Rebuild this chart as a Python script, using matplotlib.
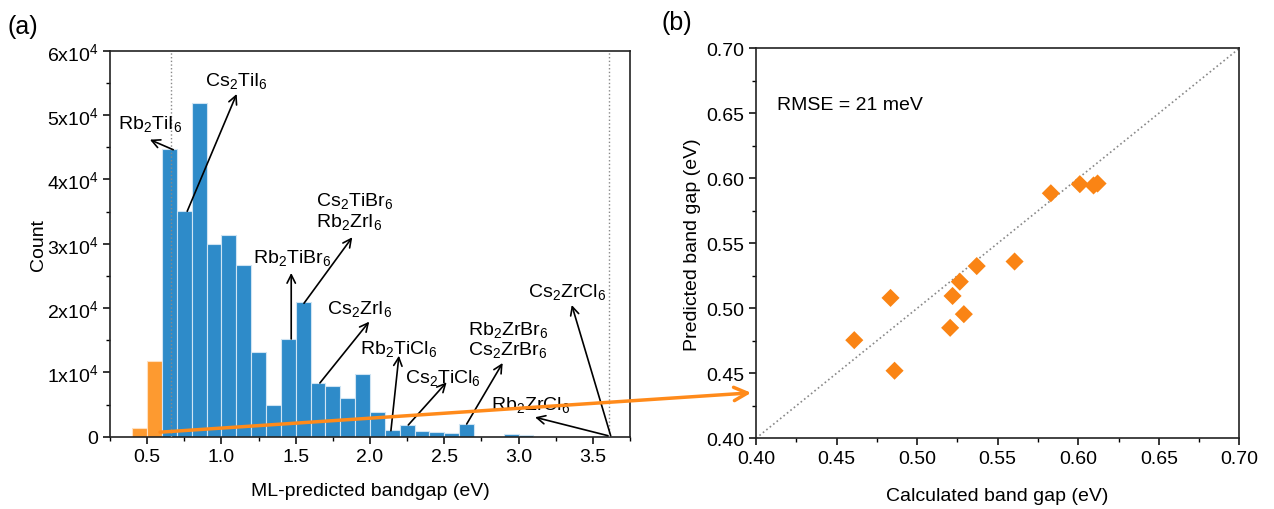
import numpy as np
import matplotlib
matplotlib.use("Agg")
import matplotlib.pyplot as plt
from matplotlib.ticker import MultipleLocator, FuncFormatter
from matplotlib.patches import ConnectionPatch

plt.rcParams['font.family'] = ['Liberation Sans', 'DejaVu Sans']
plt.rcParams['mathtext.default'] = 'regular'
plt.rcParams['font.size'] = 14

# (a) histogram of ML-predicted bandgaps, 0.1 eV bins
orange_starts = [0.4, 0.5]
orange_counts = [1300, 11800]
blue_starts = [0.6, 0.7, 0.8, 0.9, 1.0, 1.1, 1.2, 1.3, 1.4, 1.5, 1.6, 1.7,
               1.8, 1.9, 2.0, 2.1, 2.2, 2.3, 2.4, 2.5, 2.6, 2.9, 3.0, 3.5]
blue_counts = [44700, 35100, 51900, 29900, 31300, 26700, 13200, 4900, 15200,
               21000, 8350, 7900, 6000, 9750, 3800, 1100, 1800, 900, 800, 600,
               1900, 400, 300, 150]
window = [0.66, 3.61]

# (b) predicted vs calculated band gap
calc_gap = [0.461, 0.4835, 0.486, 0.5205, 0.522, 0.5265, 0.529, 0.537,
            0.5605, 0.583, 0.601, 0.6095, 0.612]
pred_gap = [0.4755, 0.508, 0.452, 0.485, 0.5095, 0.5205, 0.4955, 0.5325,
            0.536, 0.5885, 0.5955, 0.5945, 0.596]

# label text, text position, arrow tail (bar), arrow head (near text)
labels = [
    ("Rb$_2$TiI$_6$", (0.52, 48700), (0.676, 44600), (0.519, 46170), 'center'),
    ("Cs$_2$TiI$_6$", (1.10, 55500), (0.770, 35040), (1.103, 53270), 'center'),
    ("Cs$_2$TiBr$_6$\nRb$_2$ZrI$_6$", (1.64, 35200), (1.556, 20740),
     (1.881, 31000), 'left'),
    ("Rb$_2$TiBr$_6$", (1.476, 27900), (1.470, 15190), (1.470, 25450), 'center'),
    ("Cs$_2$ZrI$_6$", (1.928, 19960), (1.663, 8350), (1.995, 17880), 'center'),
    ("Rb$_2$TiCl$_6$", (1.933, 13740), (2.141, 930), (2.195, 12590), 'left'),
    ("Cs$_2$TiCl$_6$", (2.488, 9230), (2.258, 1820), (2.516, 8460), 'center'),
    ("Rb$_2$ZrBr$_6$\nCs$_2$ZrBr$_6$", (2.66, 15200), (2.651, 1970),
     (2.893, 11460), 'left'),
    ("Rb$_2$ZrCl$_6$", (3.08, 5080), (3.602, 155), (3.111, 3020), 'center'),
    ("Cs$_2$ZrCl$_6$", (3.328, 22700), (3.620, 155), (3.358, 20470), 'center'),
]

fig = plt.figure(figsize=(12.74, 5.10), dpi=100)
ax1 = fig.add_axes([0.0863, 0.1418, 0.4082, 0.7569])
ax2 = fig.add_axes([0.5934, 0.1386, 0.3794, 0.7647])

ax1.bar(orange_starts, orange_counts, width=0.1, align='edge',
        color='#FD9A30', edgecolor='#FFE0C0', linewidth=0.8, zorder=2)
ax1.bar(blue_starts, blue_counts, width=0.1, align='edge',
        color='#2E8BC9', edgecolor='#CFE4F3', linewidth=0.8, zorder=2)
for xv in window:
    ax1.axvline(xv, color='#888888', ls=':', lw=1.0, zorder=3)

for text, tpos, tail, head, ha in labels:
    ax1.annotate('', xy=head, xytext=tail,
                 arrowprops=dict(arrowstyle='->', color='black', lw=1.2,
                                 shrinkA=0, shrinkB=0, mutation_scale=15),
                 zorder=5)
    ax1.text(tpos[0], tpos[1], text, ha=ha, va='center', fontsize=14,
             linespacing=1.05, zorder=5)

ax1.set_xlim(0.25, 3.75)
ax1.set_ylim(0, 60000)
ax1.xaxis.set_major_locator(MultipleLocator(0.5))
ax1.xaxis.set_minor_locator(MultipleLocator(0.25))
ax1.yaxis.set_major_locator(MultipleLocator(10000))
ax1.yaxis.set_minor_locator(MultipleLocator(5000))
ax1.yaxis.set_major_formatter(FuncFormatter(
    lambda v, p: '0' if v == 0 else '%dx10$^4$' % round(v / 10000)))
ax1.set_xlabel("ML-predicted bandgap (eV)", fontsize=14, labelpad=12)
ax1.set_ylabel("Count", fontsize=14, labelpad=0)

ax2.plot([0.4, 0.7], [0.4, 0.7], ls=':', color='#888888', lw=1.2, zorder=1)
ax2.scatter(calc_gap, pred_gap, marker='D', s=85, color='#FA8414',
            edgecolor='none', zorder=3)
ax2.text(0.413, 0.657, "RMSE = 21 meV", ha='left', va='center', fontsize=14)
ax2.set_xlim(0.4, 0.7)
ax2.set_ylim(0.4, 0.7)
ax2.xaxis.set_major_locator(MultipleLocator(0.05))
ax2.xaxis.set_minor_locator(MultipleLocator(0.025))
ax2.yaxis.set_major_locator(MultipleLocator(0.05))
ax2.yaxis.set_minor_locator(MultipleLocator(0.025))
ax2.xaxis.set_major_formatter(FuncFormatter(lambda v, p: '%.2f' % v))
ax2.yaxis.set_major_formatter(FuncFormatter(lambda v, p: '%.2f' % v))
ax2.set_xlabel("Calculated band gap (eV)", fontsize=14, labelpad=14)
ax2.set_ylabel("Predicted band gap (eV)", fontsize=14, labelpad=4)

for ax in (ax1, ax2):
    for s in ax.spines.values():
        s.set_linewidth(1.2)
        s.set_color('#222222')
    ax.tick_params(which='major', direction='out', length=5, width=1.1,
                   labelsize=14, top=False, right=False)
    ax.tick_params(which='minor', direction='out', length=3, width=1.0,
                   top=False, right=False)

# orange arrow linking the low-gap bins to panel (b)
con = ConnectionPatch(xyA=(0.587, 700), coordsA=ax1.transData,
                      xyB=(0.397, 0.435), coordsB=ax2.transData,
                      arrowstyle='->', color='#FF8A1A', lw=2.5,
                      mutation_scale=24, zorder=10)
fig.add_artist(con)

fig.text(0.006, 0.948, "(a)", fontsize=18, ha='left', va='center')
fig.text(0.519, 0.955, "(b)", fontsize=18, ha='left', va='center')

fig.savefig("out.png", dpi=100)
